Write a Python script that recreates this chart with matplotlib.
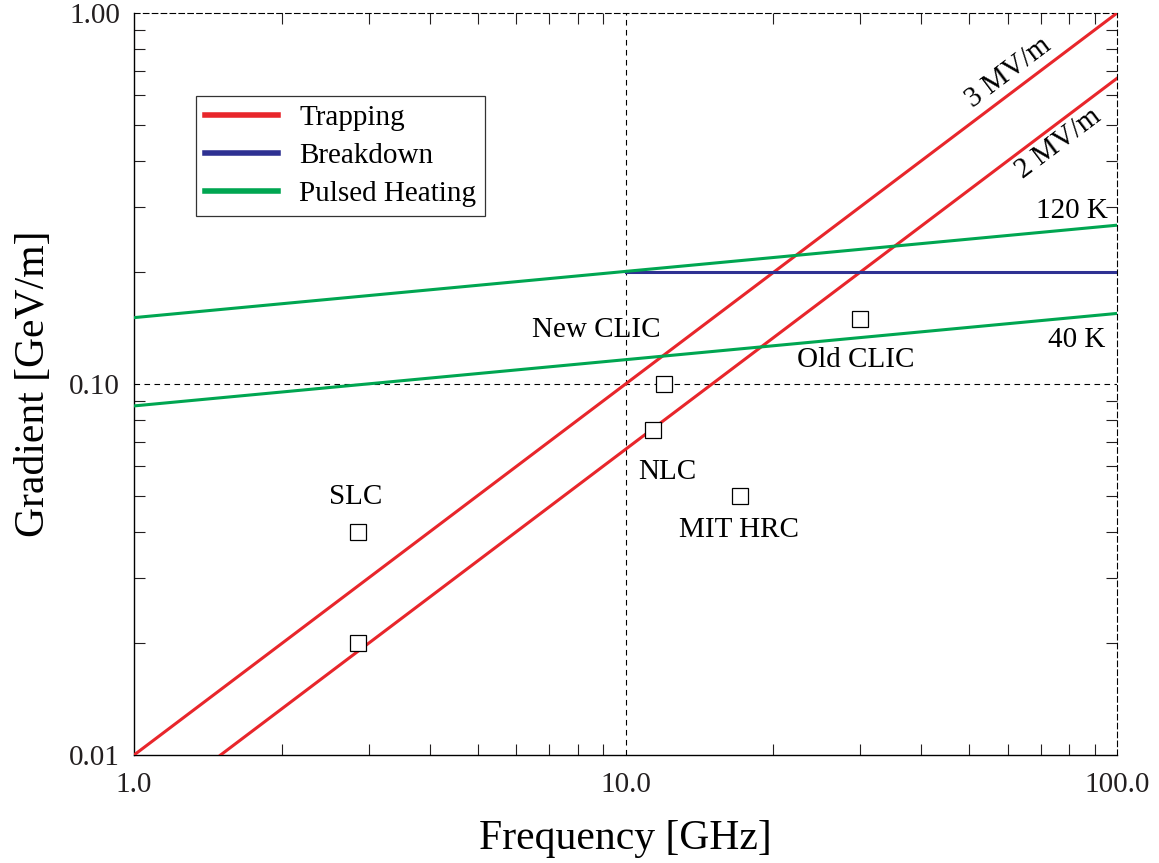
import matplotlib
matplotlib.use("Agg")
import matplotlib.pyplot as plt
from matplotlib.ticker import FixedLocator, LogLocator, NullFormatter

plt.rcParams['font.family'] = ['Liberation Serif', 'DejaVu Serif']

# line end points (straight lines on log-log axes)
trap3_freq = [1.0, 100.0]
trap3_grad = [0.01, 1.0]
trap2_freq = [1.5, 100.0]
trap2_grad = [0.01, 0.667]
break_freq = [10.0, 100.0]
break_grad = [0.2, 0.2]
heat120_freq = [1.0, 100.0]
heat120_grad = [0.151, 0.268]
heat40_freq = [1.0, 100.0]
heat40_grad = [0.0873, 0.155]

# machines (open squares)
mach_freq = [2.856, 2.856, 11.4, 12.0, 17.1, 30.0]
mach_grad = [0.04, 0.02, 0.075, 0.1, 0.05, 0.15]

red = '#e8262b'
blue = '#2e3192'
green = '#00a651'

fig = plt.figure(figsize=(11.59, 8.63), dpi=100)
ax = fig.add_axes([0.1156, 0.1251, 0.8482, 0.8598])

ax.plot(trap3_freq, trap3_grad, color=red, lw=2.2, label='Trapping', zorder=3)
ax.plot(trap2_freq, trap2_grad, color=red, lw=2.2, zorder=3)
ax.plot(break_freq, break_grad, color=blue, lw=2.2, label='Breakdown', zorder=3)
ax.plot(heat120_freq, heat120_grad, color=green, lw=2.2, label='Pulsed Heating', zorder=3)
ax.plot(heat40_freq, heat40_grad, color=green, lw=2.2, zorder=3)
ax.plot(mach_freq, mach_grad, ls='none', marker='s', ms=12, mfc='white',
        mec='black', mew=0.9, zorder=4)

ax.set_xscale('log')
ax.set_yscale('log')
ax.set_xlim(1, 100)
ax.set_ylim(0.01, 1)

ax.axvline(10, color='black', ls=(0, (5, 4)), lw=0.8, zorder=1)
ax.axhline(0.1, color='black', ls=(0, (5, 4)), lw=0.8, zorder=1)

ax.xaxis.set_major_locator(FixedLocator([1, 10, 100]))
ax.yaxis.set_major_locator(FixedLocator([0.01, 0.1, 1]))
ax.xaxis.set_minor_locator(LogLocator(base=10, subs=range(2, 10)))
ax.yaxis.set_minor_locator(LogLocator(base=10, subs=range(2, 10)))
ax.xaxis.set_minor_formatter(NullFormatter())
ax.yaxis.set_minor_formatter(NullFormatter())
ax.set_xticklabels(['1.0', '10.0', '100.0'])
ax.set_yticklabels(['0.01', '0.10', '1.00'])
ax.tick_params(which='both', direction='in', top=True, right=True, width=0.8,
               labelsize=21, colors='#231f20')
ax.tick_params(which='major', length=0)
ax.tick_params(which='minor', length=8)
ax.tick_params(axis='x', pad=12)
ax.tick_params(axis='y', pad=10)

for s in ['top', 'right']:
    ax.spines[s].set_linestyle((0, (5, 3)))
    ax.spines[s].set_linewidth(0.8)
for s in ['left', 'bottom']:
    ax.spines[s].set_linewidth(1.0)

ax.set_xlabel('Frequency [GHz]', fontsize=30, labelpad=16)
ax.set_ylabel('Gradient [GeV/m]', fontsize=30, labelpad=12)

fs = 21
ax.text(2.83, 0.0495, 'SLC', fontsize=fs, ha='center', va='center')
ax.text(12.15, 0.058, 'NLC', fontsize=fs, ha='center', va='center')
ax.text(17.0, 0.0404, 'MIT HRC', fontsize=fs, ha='center', va='center')
ax.text(8.71, 0.140, 'New CLIC', fontsize=fs, ha='center', va='center')
ax.text(29.4, 0.116, 'Old CLIC', fontsize=fs, ha='center', va='center')
ax.text(81, 0.293, '120 K', fontsize=fs, ha='center', va='center')
ax.text(82.9, 0.1314, '40 K', fontsize=fs, ha='center', va='center')
ax.text(60, 0.693, '3 MV/m', fontsize=fs, ha='center', va='center', rotation=37)
ax.text(75.9, 0.446, '2 MV/m', fontsize=fs, ha='center', va='center', rotation=37)

leg = ax.legend(loc='upper left', bbox_to_anchor=(0.063, 0.888), fontsize=21,
                frameon=True, fancybox=False, handlelength=2.5,
                handletextpad=0.75, borderpad=0.3, labelspacing=0.4,
                borderaxespad=0)
leg.get_frame().set_edgecolor('black')
leg.get_frame().set_linewidth(0.9)
for line in leg.get_lines():
    line.set_linewidth(4)

fig.savefig('out.png', dpi=100)
